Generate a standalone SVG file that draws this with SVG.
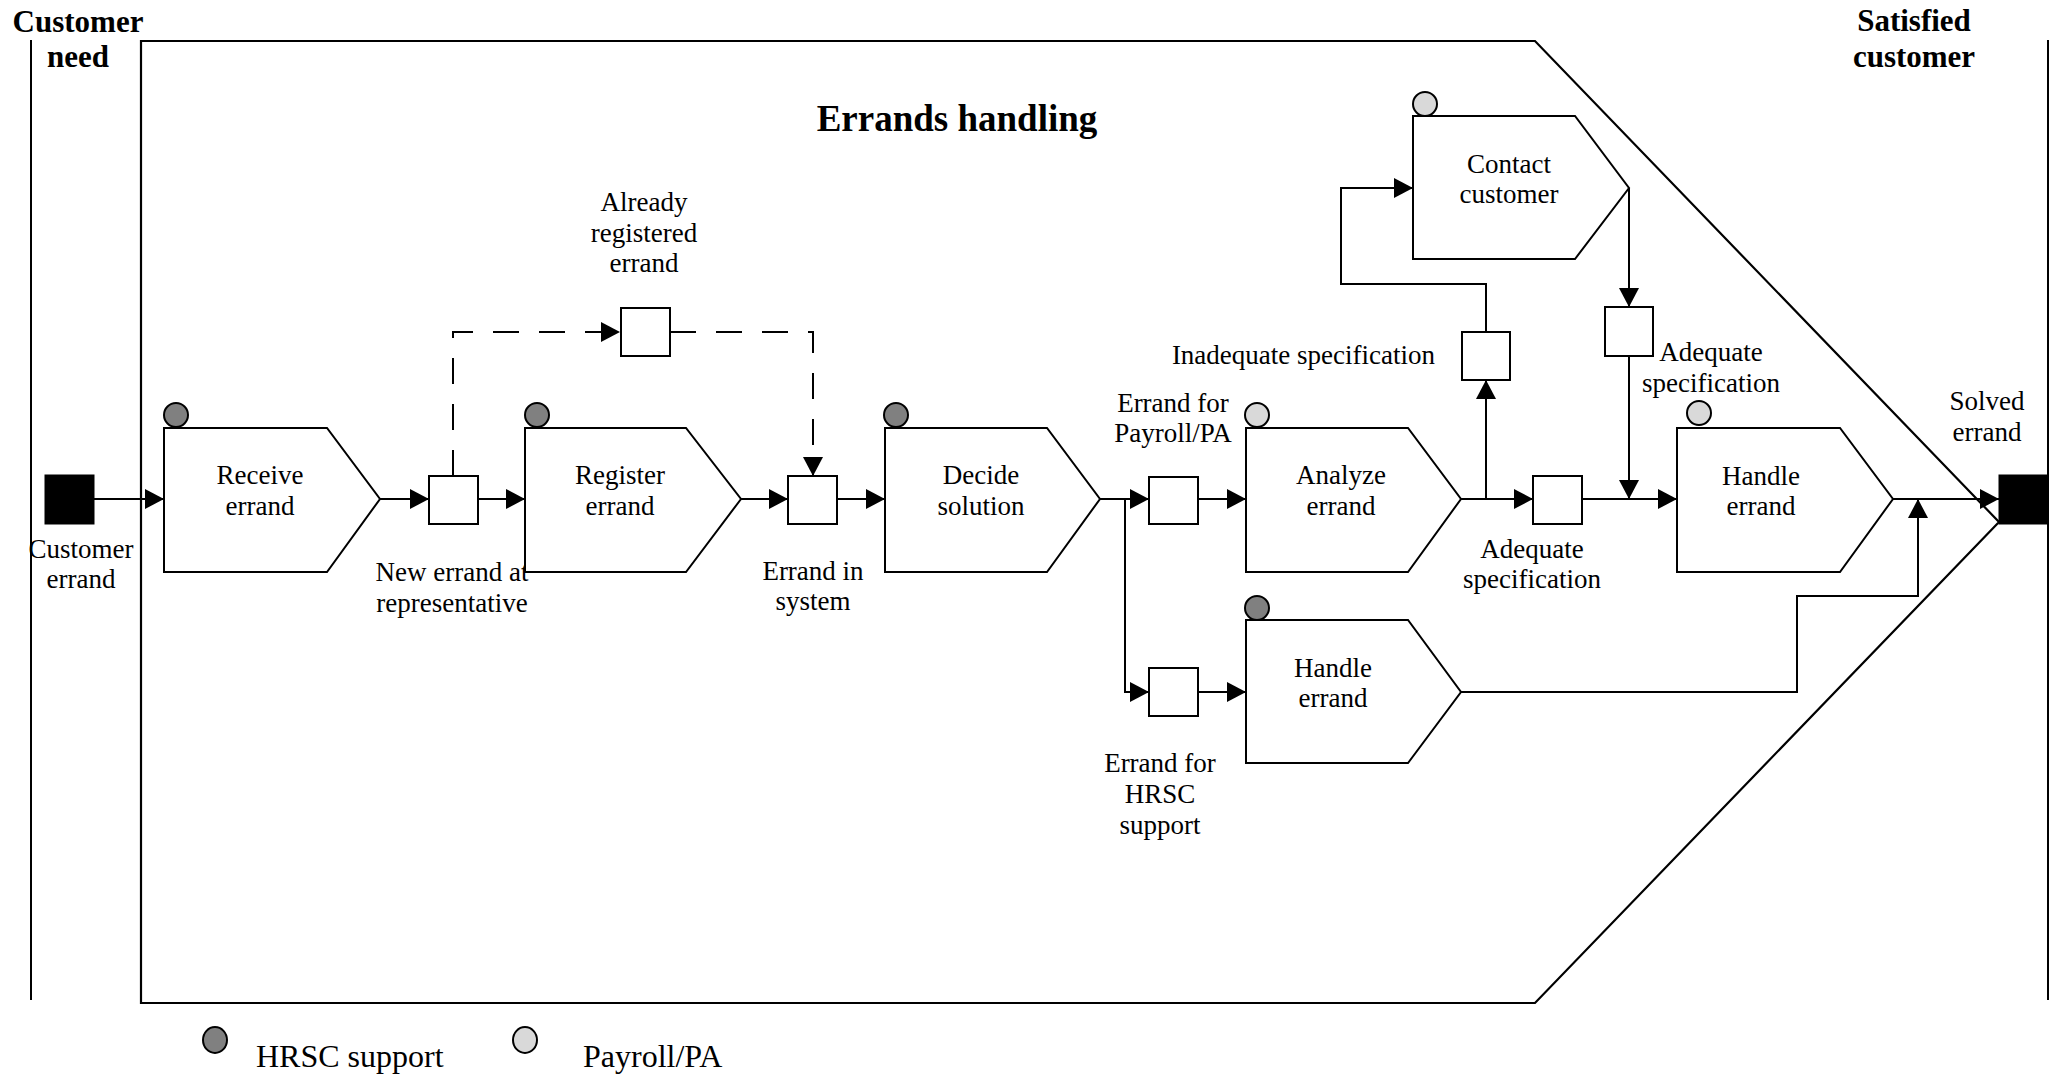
<svg xmlns="http://www.w3.org/2000/svg" width="2060" height="1080" viewBox="0 0 2060 1080">
<defs>
<style>
text{font-family:"Liberation Serif","Times New Roman",serif;font-size:27px;fill:#000}
.c{text-anchor:middle}
.b{font-weight:bold;font-size:31px}
.t{font-weight:bold;font-size:37px}
.lg{font-size:32px}
.proc{fill:#fff;stroke:#000;stroke-width:2}
.box{fill:#fff;stroke:#000;stroke-width:2}
.term{fill:#000;stroke:#000;stroke-width:1}
.hr{fill:#808080;stroke:#000;stroke-width:2}
.pa{fill:#d9d9d9;stroke:#000;stroke-width:2}
.ln{fill:none;stroke:#000;stroke-width:2}
.fr{fill:none;stroke:#000;stroke-width:2.2}
.arr{fill:none;stroke:#000;stroke-width:2;marker-end:url(#ah)}
.dash{stroke-dasharray:26 20}
</style>
<marker id="ah" markerWidth="20" markerHeight="20" refX="19" refY="10" orient="auto" markerUnits="userSpaceOnUse">
<path d="M0,0 L19,10 L0,20 Z" fill="#000"/>
</marker>
</defs>
<rect width="2060" height="1080" fill="#fff"/>

<g id="frame">
<line class="ln" x1="31" y1="40" x2="31" y2="1000"/>
<line class="ln" x1="2048" y1="40" x2="2048" y2="1000"/>
<polygon class="fr" points="141,41 1535,41 1999,522 1535,1003 141,1003"/>
<text class="b c" x="78" y="32">Customer</text>
<text class="b c" x="78" y="67">need</text>
<text class="b c" x="1914" y="31">Satisfied</text>
<text class="b c" x="1914" y="67">customer</text>
<text class="t c" x="957" y="131">Errands handling</text>
</g>

<g id="connectors">
<line class="arr" x1="94" y1="499" x2="164" y2="499"/>
<line class="arr" x1="380" y1="499" x2="429" y2="499"/>
<line class="arr" x1="478" y1="499" x2="525" y2="499"/>
<line class="arr" x1="741" y1="499" x2="788" y2="499"/>
<line class="arr" x1="837" y1="499" x2="885" y2="499"/>
<line class="arr" x1="1100" y1="499" x2="1149" y2="499"/>
<polyline class="arr" points="1125,499 1125,692 1149,692"/>
<line class="arr" x1="1198" y1="499" x2="1246" y2="499"/>
<line class="arr" x1="1198" y1="692" x2="1246" y2="692"/>
<line class="arr" x1="1461" y1="499" x2="1533" y2="499"/>
<line class="arr" x1="1486" y1="499" x2="1486" y2="380"/>
<polyline class="arr" points="1486,332 1486,284 1341,284 1341,188 1413,188"/>
<line class="arr" x1="1629" y1="188" x2="1629" y2="307"/>
<line class="arr" x1="1629" y1="356" x2="1629" y2="499"/>
<line class="arr" x1="1582" y1="499" x2="1677" y2="499"/>
<line class="arr" x1="1893" y1="499" x2="1999" y2="499"/>
<polyline class="arr" points="1461,692 1797,692 1797,596 1918,596 1918,499"/>
<polyline class="arr dash" points="453,476 453,332 620,332"/>
<polyline class="arr dash" points="670,332 813,332 813,476"/>
</g>

<g id="customer-errand">
<rect class="term" x="45" y="475" width="49" height="49"/>
<text class="c" x="81" y="558">Customer</text>
<text class="c" x="81" y="588">errand</text>
</g>

<g id="receive-errand">
<polygon class="proc" points="164,428 327,428 380,499 327,572 164,572"/>
<circle class="hr" cx="176" cy="415" r="12"/>
<text class="c" x="260" y="484">Receive</text>
<text class="c" x="260" y="515">errand</text>
</g>

<g id="new-errand">
<rect class="box" x="429" y="476" width="49" height="48"/>
<text class="c" x="452" y="581">New errand at</text>
<text class="c" x="452" y="612">representative</text>
</g>

<g id="already-registered">
<rect class="box" x="621" y="308" width="49" height="48"/>
<text class="c" x="644" y="211">Already</text>
<text class="c" x="644" y="242">registered</text>
<text class="c" x="644" y="272">errand</text>
</g>

<g id="register-errand">
<polygon class="proc" points="525,428 686,428 741,499 686,572 525,572"/>
<circle class="hr" cx="537" cy="415" r="12"/>
<text class="c" x="620" y="484">Register</text>
<text class="c" x="620" y="515">errand</text>
</g>

<g id="errand-in-system">
<rect class="box" x="788" y="476" width="49" height="48"/>
<text class="c" x="813" y="580">Errand in</text>
<text class="c" x="813" y="610">system</text>
</g>

<g id="decide-solution">
<polygon class="proc" points="885,428 1047,428 1100,499 1047,572 885,572"/>
<circle class="hr" cx="896" cy="415" r="12"/>
<text class="c" x="981" y="484">Decide</text>
<text class="c" x="981" y="515">solution</text>
</g>

<g id="errand-payroll">
<rect class="box" x="1149" y="477" width="49" height="47"/>
<text class="c" x="1173" y="412">Errand for</text>
<text class="c" x="1173" y="442">Payroll/PA</text>
</g>

<g id="errand-hrsc">
<rect class="box" x="1149" y="668" width="49" height="48"/>
<text class="c" x="1160" y="772">Errand for</text>
<text class="c" x="1160" y="803">HRSC</text>
<text class="c" x="1160" y="834">support</text>
</g>

<g id="analyze-errand">
<polygon class="proc" points="1246,428 1408,428 1461,499 1408,572 1246,572"/>
<circle class="pa" cx="1257" cy="415" r="12"/>
<text class="c" x="1341" y="484">Analyze</text>
<text class="c" x="1341" y="515">errand</text>
</g>

<g id="handle-errand-hrsc">
<polygon class="proc" points="1246,620 1408,620 1461,692 1408,763 1246,763"/>
<circle class="hr" cx="1257" cy="608" r="12"/>
<text class="c" x="1333" y="677">Handle</text>
<text class="c" x="1333" y="707">errand</text>
</g>

<g id="inadequate-spec">
<rect class="box" x="1462" y="332" width="48" height="48"/>
<text x="1435" y="364" text-anchor="end">Inadequate specification</text>
</g>

<g id="contact-customer">
<polygon class="proc" points="1413,116 1575,116 1629,188 1575,259 1413,259"/>
<circle class="pa" cx="1425" cy="104" r="12"/>
<text class="c" x="1509" y="173">Contact</text>
<text class="c" x="1509" y="203">customer</text>
</g>

<g id="adequate-spec-contact">
<rect class="box" x="1605" y="307" width="48" height="49"/>
<text class="c" x="1711" y="361">Adequate</text>
<text class="c" x="1711" y="392">specification</text>
</g>

<g id="adequate-spec">
<rect class="box" x="1533" y="476" width="49" height="48"/>
<text class="c" x="1532" y="558">Adequate</text>
<text class="c" x="1532" y="588">specification</text>
</g>

<g id="handle-errand-payroll">
<polygon class="proc" points="1677,428 1840,428 1893,499 1840,572 1677,572"/>
<circle class="pa" cx="1699" cy="413" r="12"/>
<text class="c" x="1761" y="485">Handle</text>
<text class="c" x="1761" y="515">errand</text>
</g>

<g id="solved-errand">
<rect class="term" x="1999" y="475" width="49" height="49"/>
<text class="c" x="1987" y="410">Solved</text>
<text class="c" x="1987" y="441">errand</text>
</g>

<g id="legend">
<ellipse class="hr" cx="215" cy="1040" rx="12" ry="13"/>
<text class="lg" x="256" y="1067">HRSC support</text>
<ellipse class="pa" cx="525" cy="1040" rx="12" ry="13"/>
<text class="lg" x="583" y="1067">Payroll/PA</text>
</g>
</svg>
